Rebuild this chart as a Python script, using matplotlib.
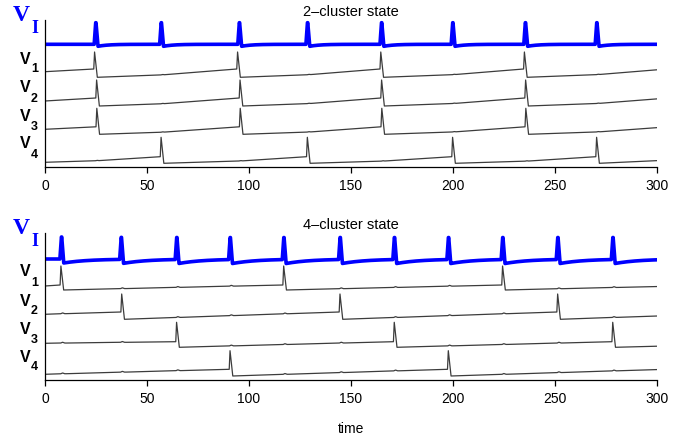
import numpy as np
import matplotlib.pyplot as plt

plt.rcParams['font.family'] = ['Liberation Sans', 'DejaVu Sans']

# spike times (peak)
top_v1 = [24.3, 94.4, 164.6, 235.0]
top_v2 = [25.3, 95.6, 165.0, 235.6]
top_v3 = [25.4, 95.7, 165.1, 235.7]
top_v4 = [56.9, 128.6, 199.8, 270.4]
top_vi = [24.8, 56.9, 95.2, 128.6, 164.9, 199.8, 235.4, 270.4]

bot_v1 = [7.8, 117.0, 224.3]
bot_v2 = [37.6, 144.6, 251.3]
bot_v3 = [64.5, 171.2, 278.3]
bot_v4 = [90.7, 197.7]
bot_vi = [8.0, 37.3, 64.5, 90.7, 117.0, 144.6, 171.2, 197.7, 224.3, 251.3, 278.3]

# voltage levels relative to reset: threshold, spike peak, value at t=0
top_thresh = [8.3, 8.0, 7.5, 6.6]
top_peak = [25.3, 26.0, 26.0, 26.0]
top_start = [5.6, 5.0, 5.0, 1.0]
bot_thresh = [5.0, 7.3, 5.6, 6.7]
bot_peak = [24.0, 25.3, 25.0, 25.3]
bot_start = [4.0, 5.0, 4.0, 1.7]

# V_I: spike height and after-spike dip
top_vi_amp, top_vi_dip = 21.6, 2.0
bot_vi_amp, bot_vi_dip = 22.0, 4.0

t = np.arange(0, 300.001, 0.05)
RISE, FALL = 0.4, 1.3


def neuron(own, vi, start, thr, peak, kink, bump):
    own = list(own)
    others = np.array([s for s in vi if min(abs(s - o) for o in own) > 2.0])
    v = np.zeros_like(t)
    period = own[1] - own[0]
    a, la = 0.0, start
    for ts in own + [own[-1] + period]:
        b = ts - RISE
        tt = np.arange(a, b + 0.05, 0.05)
        n = np.searchsorted(others, tt) - np.searchsorted(others, a)
        cum = np.cumsum(kink ** n)
        ramp = la + (thr - la) * cum / cum[-1]
        m = (t >= a) & (t < b)
        v[m] = np.interp(t[m], tt, ramp)
        m = (t >= b) & (t < ts)
        v[m] = thr + (peak - thr) * (t[m] - b) / RISE
        m = (t >= ts) & (t < ts + FALL)
        v[m] = peak * (1 - (t[m] - ts) / FALL)
        a, la = ts + FALL, 0.0
    for s in others:
        v += bump * np.exp(-((t - s - 0.6) / 0.6) ** 2)
    return v


def inhib(vi, amp, dip, tau):
    v = np.zeros_like(t)
    for s in vi:
        up = (t >= s - 0.7) & (t < s)
        v[up] += amp * (t[up] - s + 0.7) / 0.7
        top = (t >= s) & (t < s + 0.2)
        v[top] += amp
        down = (t >= s + 0.2) & (t < s + 1.2)
        v[down] += amp * (1 - (t[down] - s - 0.2) / 1.0) - dip * (t[down] - s - 0.2) / 1.0
        tail = t >= s + 1.2
        v[tail] -= dip * np.exp(-(t[tail] - s - 1.2) / tau)
    return v


fig = plt.figure(figsize=(6.9, 4.41), dpi=100)
W, H = 690.0, 441.0

panels = [
    dict(rect=[45 / W, 1 - 167 / H, 612 / W, 147 / H], title='2\u2013cluster state',
         spikes=[top_v1, top_v2, top_v3, top_v4], vi=top_vi,
         thresh=top_thresh, peak=top_peak, start=top_start,
         amp=top_vi_amp, dip=top_vi_dip, tau=5.0, kink=2.2, bump=0.4,
         offsets=[89.7, 61.0, 32.7, 3.7], vi_base=122.7, dy=0),
    dict(rect=[45 / W, 1 - 380 / H, 612 / W, 147 / H], title='4\u2013cluster state',
         spikes=[bot_v1, bot_v2, bot_v3, bot_v4], vi=bot_vi,
         thresh=bot_thresh, peak=bot_peak, start=bot_start,
         amp=bot_vi_amp, dip=bot_vi_dip, tau=12.0, kink=1.0, bump=0.8,
         offsets=[90.0, 60.7, 32.7, 4.0], vi_base=121.0, dy=213),
]

for p in panels:
    ax = fig.add_axes(p['rect'])
    for k in range(4):
        v = neuron(p['spikes'][k], p['vi'], p['start'][k], p['thresh'][k],
                   p['peak'][k], p['kink'], p['bump'])
        ax.plot(t, v + p['offsets'][k], color='#3c3c3c', lw=0.9)
    ax.plot(t, inhib(p['vi'], p['amp'], p['dip'], p['tau']) + p['vi_base'],
            color='#0000ff', lw=2.6, solid_joinstyle='round')
    ax.set_xlim(0, 300)
    ax.set_ylim(0, 147)
    ax.set_yticks([])
    ax.set_xticks([0, 50, 100, 150, 200, 250, 300])
    ax.tick_params(axis='x', direction='out', length=4.3, width=0.9, pad=4, labelsize=10)
    for side in ['top', 'right']:
        ax.spines[side].set_visible(False)
    for side in ['left', 'bottom']:
        ax.spines[side].set_linewidth(0.9)
    ax.set_title(p['title'], fontsize=10.5, pad=3)

    dy = p['dy']
    fig.text(21.5 / W, 1 - (15.5 + dy) / H, 'V', color='#0000ff', fontsize=17,
             fontweight='bold', family='Liberation Serif', ha='center', va='center')
    fig.text(35 / W, 1 - (28.5 + dy) / H, 'I', color='#0000ff', fontsize=13,
             fontweight='bold', family='Liberation Serif', ha='center', va='center')
    for k, (yv, ys) in enumerate([(59, 69.5), (88, 98.5), (116.3, 127), (144, 154.5)]):
        fig.text(25 / W, 1 - (yv + dy) / H, 'V', fontsize=11.5, fontweight='bold',
                 ha='center', va='center')
        fig.text(34.5 / W, 1 - (ys + dy) / H, str(k + 1), fontsize=9, fontweight='bold',
                 ha='center', va='center')

ax.set_xlabel('time', fontsize=10, labelpad=12)

plt.savefig('out.png', dpi=100)
